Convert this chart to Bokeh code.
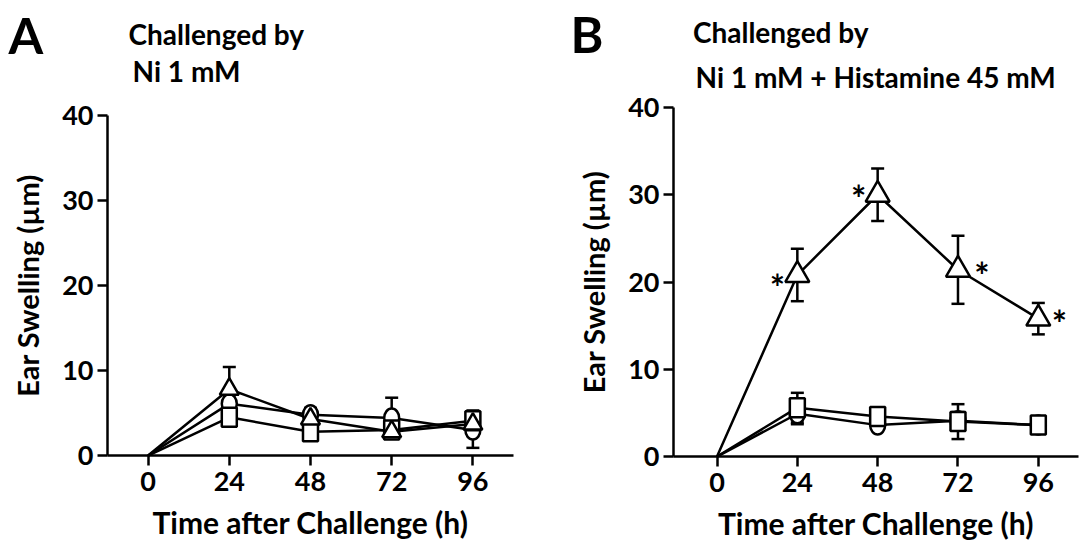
from bokeh.plotting import figure
from bokeh.layouts import row
from bokeh.models import Range1d, Label, Whisker, ColumnDataSource, TeeHead, FixedTicker
from bokeh.embed import file_html
from bokeh.resources import INLINE
from bokeh.core.properties import value

# ---------------- data ----------------
time_h = [0, 24, 48, 72, 96]
x_ticks = [0, 24, 48, 72, 96]
y_ticks = [0, 10, 20, 30, 40]

# Panel A: challenged by Ni 1 mM
a_tri_mean = [0, 7.8, 4.3, 2.8, 3.7]
a_tri_sem = [0, 2.6, 1.2, 0.6, 1.4]
a_cir_mean = [0, 6.1, 4.8, 4.4, 3.0]
a_cir_sem = [0, 1.0, 0.8, 2.4, 2.1]
a_sq_mean = [0, 4.5, 2.8, 3.0, 4.1]
a_sq_sem = [0, 1.0, 0.6, 0.5, 1.2]

# Panel B: challenged by Ni 1 mM + Histamine 45 mM
b_tri_mean = [0, 20.8, 30.0, 21.4, 15.8]
b_tri_sem = [0, 3.0, 3.0, 3.9, 1.8]
b_cir_mean = [0, 4.9, 3.6, 4.1, 3.6]
b_cir_sem = [0, 1.2, 0.5, 1.0, 0.3]
b_sq_mean = [0, 5.6, 4.6, 4.0, 3.6]
b_sq_sem = [0, 1.7, 0.5, 2.0, 0.3]
b_sig = [False, True, True, True, True]

title_line1 = "Challenged by"
title_a = "Ni 1 mM"
title_b = "Ni 1 mM + Histamine 45 mM"
x_label = "Time after Challenge (h)"
y_label = "Ear Swelling (µm)"

FONT = "Lato"
LW = 2.5


def style(p, x_lo, x_hi):
    p.title.visible = False
    p.xgrid.visible = False
    p.ygrid.visible = False
    p.outline_line_color = None
    p.background_fill_color = "white"
    p.border_fill_color = "white"
    for ax in (p.xaxis[0], p.yaxis[0]):
        ax.axis_line_width = LW
        ax.axis_line_color = "black"
        ax.major_tick_line_width = LW
        ax.major_tick_line_color = "black"
        ax.major_tick_out = 10
        ax.major_tick_in = 0
        ax.minor_tick_line_color = None
        ax.major_label_text_font = FONT
        ax.major_label_text_font_style = "bold"
        ax.major_label_text_font_size = "27px"
        ax.major_label_text_color = "black"
        ax.axis_label_text_font = FONT
        ax.axis_label_text_font_style = "bold"
        ax.axis_label_text_color = "black"
    p.xaxis[0].axis_label_text_font_size = "30px"
    p.yaxis[0].axis_label_text_font_size = "29px"
    p.xaxis[0].ticker = FixedTicker(ticks=x_ticks)
    p.yaxis[0].ticker = FixedTicker(ticks=y_ticks)
    p.xaxis[0].bounds = (x_lo, x_hi)
    p.yaxis[0].bounds = (0, 40)
    p.yaxis[0].fixed_location = x_lo
    p.xaxis[0].fixed_location = 0
    p.xaxis[0].axis_label = x_label
    p.yaxis[0].axis_label = y_label
    p.xaxis[0].major_label_standoff = 6
    p.xaxis[0].axis_label_standoff = 10
    p.yaxis[0].major_label_standoff = 4
    p.yaxis[0].axis_label_standoff = 14


def errbars(p, means, sems):
    xs = [t for t, s in zip(time_h, sems) if s > 0]
    up = [m + s for m, s in zip(means, sems) if s > 0]
    lo = [m - s for m, s in zip(means, sems) if s > 0]
    src = ColumnDataSource(dict(x=xs, upper=up, lower=lo))
    w = Whisker(source=src, base="x", upper="upper", lower="lower",
                line_width=LW, line_color="black",
                upper_head=TeeHead(size=13, line_width=LW, line_color="black"),
                lower_head=TeeHead(size=13, line_width=LW, line_color="black"))
    p.add_layout(w)


def draw_markers(p, kind, means, tri_size):
    if kind == "tri":
        p.scatter(time_h[1:], means[1:], marker="triangle", size=tri_size,
                  fill_color="white", line_color="black", line_width=LW)
    elif kind == "cir":
        p.ellipse(time_h[1:], means[1:], width=15, height=19,
                  width_units="screen", height_units="screen",
                  fill_color="white", line_color="black", line_width=LW)
    else:
        p.rect(time_h[1:], means[1:], width=15, height=19,
               width_units="screen", height_units="screen",
               fill_color="white", line_color="black", line_width=LW)


def add_label(p, text, x, y, size, baseline="alphabetic"):
    p.add_layout(Label(x=x, y=y, text=text, text_font=FONT, text_font_style="bold",
                       text_font_size=size, text_color="black",
                       text_align="left", text_baseline=baseline))


H = 548

# ---------------- Panel A ----------------
pA = figure(width=558, height=H, x_range=Range1d(-43.63, 121.31), y_range=Range1d(-10.94, 53.53),
            output_backend="svg", toolbar_location=None,
            min_border_left=0, min_border_right=0, min_border_top=0, min_border_bottom=0)
style(pA, -12, 108)
seriesA = [("cir", a_cir_mean, a_cir_sem), ("sq", a_sq_mean, a_sq_sem), ("tri", a_tri_mean, a_tri_sem)]
for kind, m, s in seriesA:
    errbars(pA, m, s)
for kind, m, s in seriesA:
    pA.line(time_h, m, line_width=LW, line_color="black")
for kind, m, s in seriesA:
    draw_markers(pA, kind, m, 19)

add_label(pA, "A", -41.3, 53.0, "50px", "top")
add_label(pA, title_line1, -5.8, 49.6, "28px")
add_label(pA, title_a, -4.6, 45.2, "28px")

# ---------------- Panel B ----------------
pB = figure(width=526, height=H, x_range=Range1d(-47.36, 109.8), y_range=Range1d(-10.54, 52.26),
            output_backend="svg", toolbar_location=None,
            min_border_left=0, min_border_right=0, min_border_top=0, min_border_bottom=0)
style(pB, -13, 108)
seriesB = [("cir", b_cir_mean, b_cir_sem), ("sq", b_sq_mean, b_sq_sem), ("tri", b_tri_mean, b_tri_sem)]
for kind, m, s in seriesB:
    errbars(pB, m, s)
for kind, m, s in seriesB:
    pB.line(time_h, m, line_width=LW, line_color="black")
for kind, m, s in seriesB:
    draw_markers(pB, kind, m, 24)

# significance asterisks next to the triangle series
ast_dx = [0, -20, -19, 24, 21]
ast_dy = [0, 12, 3, 5, 4]
sx = [t for t, f in zip(time_h, b_sig) if f]
sy = [m for m, f in zip(b_tri_mean, b_sig) if f]
sdx = [d for d, f in zip(ast_dx, b_sig) if f]
sdy = [d for d, f in zip(ast_dy, b_sig) if f]
ast_src = ColumnDataSource(dict(x=sx, y=sy, dx=sdx, dy=sdy, t=["*"] * len(sx)))
pB.text(x="x", y="y", text="t", x_offset="dx", y_offset="dy", source=ast_src,
        text_font=value(FONT), text_font_size="36px", text_font_style="bold",
        text_align="center", text_baseline="middle", text_color="black")

add_label(pB, "B", -43.8, 51.9, "50px", "top")
add_label(pB, title_line1, -7.2, 48.6, "28px")
add_label(pB, title_b, -6.4, 43.5, "28px")

layout = row(pA, pB)
open("out.html", "w").write(file_html(layout, INLINE))
